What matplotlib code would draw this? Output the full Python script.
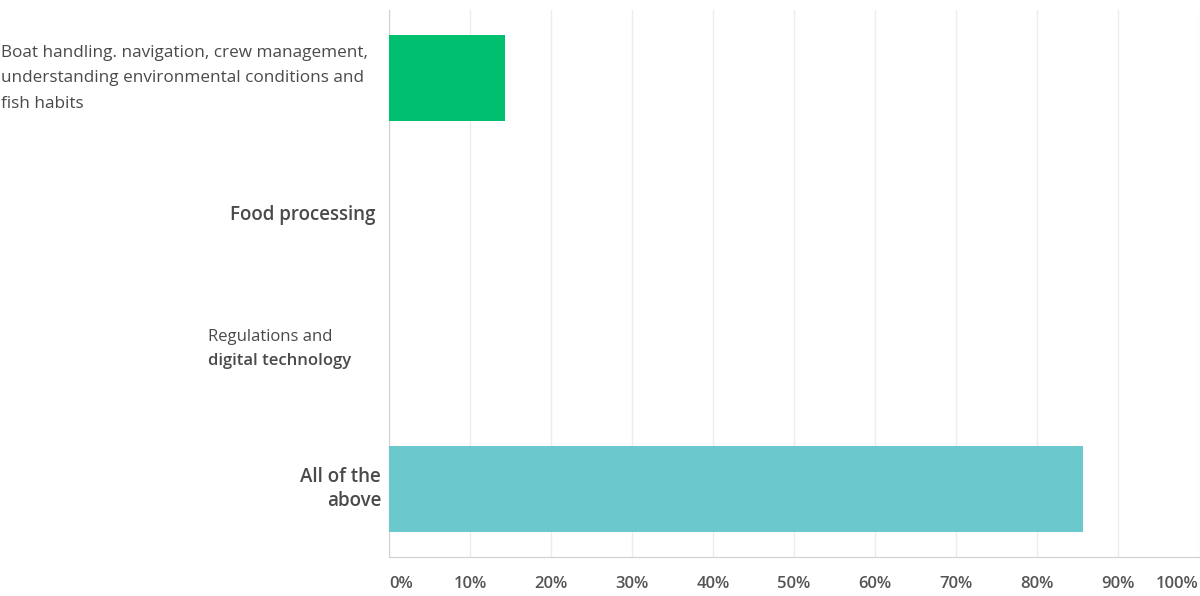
import matplotlib.pyplot as plt
import matplotlib.transforms as mtransforms

# data
categories = ["Boat handling. navigation, crew management,\nunderstanding environmental conditions and\nfish habits",
              "Food processing",
              "Regulations and\ndigital technology",
              "All of the\nabove"]
values = [14.29, 0.0, 0.0, 85.71]
bar_colors = ["#00BF6F", "#00BF6F", "#00BF6F", "#6BC8CD"]
tick_vals = [0, 10, 20, 30, 40, 50, 60, 70, 80, 90, 100]
tick_labels = [f"{v}%" for v in tick_vals]

txt_col = "#4a4a4a"
plt.rcParams["font.family"] = ["Open Sans", "DejaVu Sans"]

fig = plt.figure(figsize=(12, 5.96), dpi=100)
ax = fig.add_axes([389 / 1200, 1 - 557 / 596, 810 / 1200, 547 / 596])

ypos = list(range(len(categories)))
ax.barh(ypos, values, height=0.63, color=bar_colors, zorder=3)
ax.set_ylim(3.5, -0.5)
ax.set_xlim(0, 100)

ax.set_xticks(tick_vals)
ax.set_xticklabels(tick_labels, fontsize=12, color="#555555", fontweight="semibold")
lbls = ax.get_xticklabels()
lbls[0].set_ha("left")
lbls[-1].set_ha("right")
ax.tick_params(axis="x", length=0, pad=14)
ax.set_yticks([])
ax.grid(axis="x", color="#ececec", linewidth=1, zorder=0)

for s in ["top", "right"]:
    ax.spines[s].set_visible(False)
ax.spines["left"].set_color("#d0d0d0")
ax.spines["bottom"].set_color("#d0d0d0")

# category labels
tr = mtransforms.blended_transform_factory(fig.transFigure, ax.transData)
fig.text(1 / 1200, 0, categories[0], transform=tr, ha="left", va="center",
         fontsize=12.3, color=txt_col, linespacing=1.8)
fig.text(376 / 1200, 1, categories[1], transform=tr, ha="right", va="center",
         fontsize=13.5, color=txt_col, fontweight="semibold")
reg_lines = categories[2].split("\n")
fig.text(208 / 1200, 1.89, reg_lines[0], transform=tr, ha="left", va="center",
         fontsize=12, color=txt_col)
fig.text(208 / 1200, 2.07, reg_lines[1], transform=tr, ha="left", va="center",
         fontsize=12, color=txt_col, fontweight="semibold")
fig.text(381 / 1200, 3, categories[3], transform=tr, ha="right", va="center",
         fontsize=13.5, color=txt_col, fontweight="semibold", linespacing=1.25,
         multialignment="right")

fig.savefig("out.png", dpi=100)
